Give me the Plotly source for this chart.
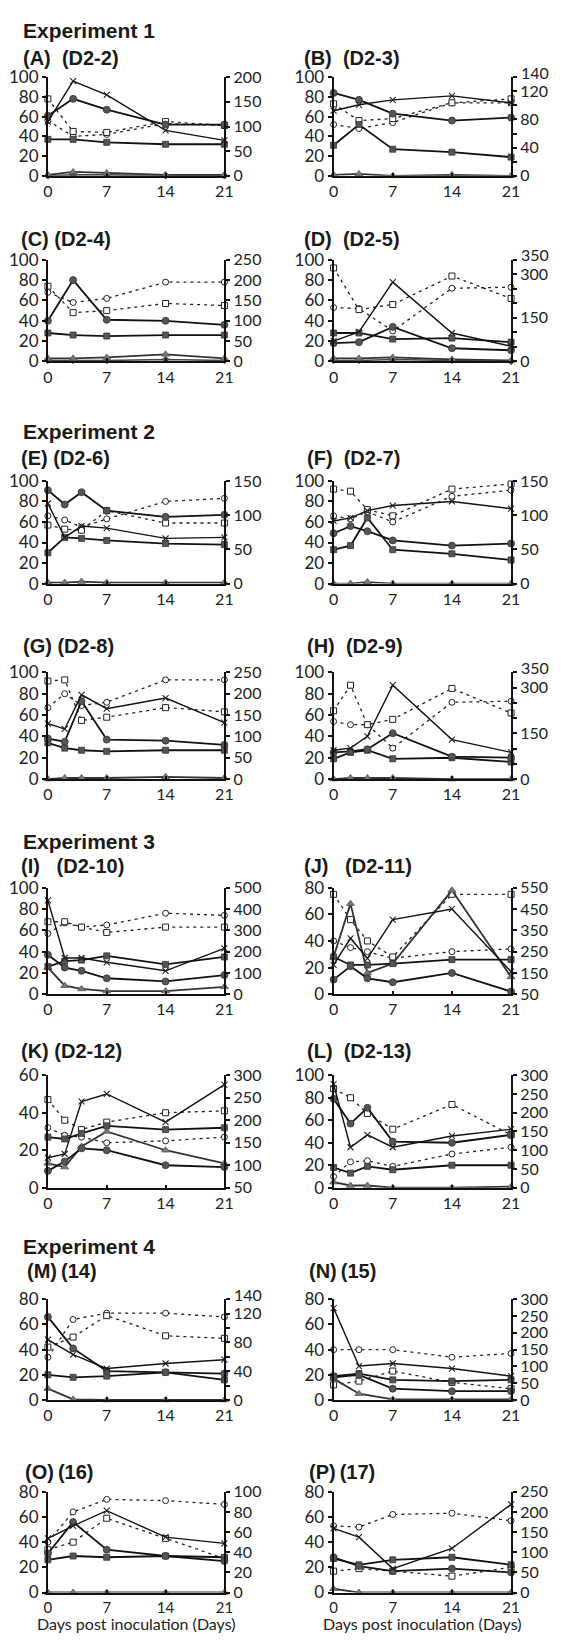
import plotly.graph_objects as go

W, H = 562, 1642

# ---------------- data ----------------
DAYS_5 = [0, 3, 7, 14, 21]
DAYS_6 = [0, 2, 4, 7, 14, 21]
X_TICKS = [0, 7, 14, 21]

PANELS = list("ABCDEFGHIJKLMNOP")
TITLES = {
    "A": "(A)\u00a0\u00a0(D2-2)", "B": "(B)\u00a0\u00a0(D2-3)",
    "C": "(C) (D2-4)", "D": "(D)\u00a0\u00a0(D2-5)",
    "E": "(E) (D2-6)", "F": "(F)\u00a0\u00a0(D2-7)",
    "G": "(G) (D2-8)", "H": "(H)\u00a0\u00a0(D2-9)",
    "I": "(I)\u00a0\u00a0\u00a0(D2-10)", "J": "(J)\u00a0\u00a0\u00a0(D2-11)",
    "K": "(K) (D2-12)", "L": "(L)\u00a0\u00a0(D2-13)",
    "M": "(M)\u2009(14)", "N": "(N)\u2009(15)",
    "O": "(O)\u2009(16)", "P": "(P)\u2009(17)",
}
EXPERIMENTS = ["Experiment 1", "Experiment 2", "Experiment 3", "Experiment 4"]
X_TITLE = "Days post inoculation (Days)"

LEFT_MAX = {p: 100 for p in PANELS}
LEFT_MAX.update({"J": 80, "K": 60, "M": 80, "N": 80, "O": 80, "P": 80})

RIGHT_RANGE = {
    "A": [0, 200], "B": [0, 140], "C": [0, 250], "D": [0, 350],
    "E": [0, 150], "F": [0, 150], "G": [0, 250], "H": [0, 350],
    "I": [0, 500], "J": [50, 550], "K": [50, 300], "L": [0, 300],
    "M": [0, 140], "N": [0, 300], "O": [0, 100], "P": [0, 250],
}
RIGHT_TICKS = {
    "A": [0, 50, 100, 150, 200],
    "B": [0, 20, 40, 60, 80, 100, 120, 140],
    "C": [0, 50, 100, 150, 200, 250],
    "D": [0, 50, 100, 150, 200, 250, 300, 350],
    "E": [0, 50, 100, 150], "F": [0, 50, 100, 150],
    "G": [0, 50, 100, 150, 200, 250],
    "H": [0, 50, 100, 150, 200, 250, 300, 350],
    "I": [0, 100, 200, 300, 400, 500],
    "J": [50, 150, 250, 350, 450, 550],
    "K": [50, 100, 150, 200, 250, 300],
    "L": [0, 50, 100, 150, 200, 250, 300],
    "M": [0, 20, 40, 60, 80, 100, 120, 140],
    "N": [0, 50, 100, 150, 200, 250, 300],
    "O": [0, 20, 40, 60, 80, 100],
    "P": [0, 50, 100, 150, 200, 250],
}
RIGHT_LABELS = {
    "B": ["0", "", "40", "", "80", "", "120", "140"],
    "D": ["0", "", "", "150", "", "", "300", "350"],
    "H": ["0", "", "", "150", "", "", "300", "350"],
    "M": ["0", "", "40", "", "80", "", "120", "140"],
}
# right-axis top labels that sit just above the axis end (drawn as text)
RAISED_TOP = {"B": "140", "D": "350", "H": "350", "M": "140"}

FILLED_CIRCLE = {
    "A": [61, 78, 67, 52, 52], "B": [84, 77, 63, 56, 59],
    "C": [40, 80, 41, 40, 36], "D": [18, 19, 34, 13, 11],
    "E": [91, 77, 89, 71, 65, 67], "F": [49, 56, 51, 42, 37, 39],
    "G": [38, 35, 73, 37, 36, 32], "H": [25, 26, 28, 43, 21, 20],
    "I": [37, 25, 22, 15, 12, 18], "J": [11, 21, 12, 9, 16, 2],
    "K": [9, 14, 21, 20, 12, 11], "L": [79, 57, 71, 41, 40, 47],
    "M": [66, 41, 23, 22, 21], "N": [18, 20, 9, 7, 7],
    "O": [31, 56, 34, 29, 25], "P": [28, 21, 17, 19, 16],
}
FILLED_SQUARE = {
    "A": [37, 37, 34, 32, 32], "B": [31, 52, 27, 24, 19],
    "C": [28, 26, 25, 26, 26], "D": [28, 28, 22, 23, 19],
    "E": [30, 45, 44, 42, 39, 38], "F": [33, 37, 64, 33, 29, 23],
    "G": [34, 29, 27, 26, 27, 27], "H": [19, 25, 27, 19, 20, 16],
    "I": [26, 31, 32, 36, 28, 35], "J": [28, 22, 22, 23, 26, 26],
    "K": [27, 26, 29, 33, 31, 32], "L": [18, 13, 19, 16, 20, 20],
    "M": [20, 18, 19, 22, 16], "N": [19, 21, 16, 15, 16],
    "O": [26, 29, 28, 29, 28], "P": [27, 22, 26, 28, 22],
}
TRIANGLE = {
    "A": [1, 4, 3, 1, 1], "B": [1, 2, 0, 1, 0],
    "C": [3, 3, 4, 7, 3], "D": [3, 3, 4, 2, 1],
    "E": [1, 1, 2, 1, 1, 1], "F": [0, 0, 1.5, 0, 0, 0],
    "G": [0, 1, 1, 1, 2, 1], "H": [0, 1, 1, 1, 0, 0],
    "I": [25, 8, 5, 3, 3, 7], "J": [28, 68, 16, 23, 78, 13],
    "K": [13, 11, 22, 30, 20, 13], "L": [5, 2, 2, 0, 0, 1],
    "M": [9, 0.5, 0, 0, 0], "N": [17, 5, 0.5, 0.5, 0.5],
    "O": [0, 0, 0, 0, 0], "P": [3, 0, 0, 0, 0],
}
DIAMOND = {
    "A": [0, 1, 1, 0, 0], "C": [1, 1, 1, 2, 1], "D": [1, 1, 2, 1, 0],
}
CROSS = {
    "A": [55, 96, 82, 46, 36], "B": [66, 72, 77, 81, 74],
    "D": [20, 29, 78, 28, 15],
    "E": [78, 45, 56, 54, 44, 45], "F": [61, 64, 71, 76, 80, 73],
    "G": [52, 47, 79, 66, 76, 53], "H": [27, 29, 40, 88, 37, 25],
    "I": [88, 34, 34, 30, 22, 43], "J": [22, 42, 27, 56, 64, 17],
    "K": [16, 18, 46, 50, 35, 55], "L": [92, 36, 47, 36, 46, 52],
    "M": [48, 36, 25, 29, 32], "N": [73, 27, 29, 25, 19],
    "O": [43, 53, 65, 44, 39], "P": [51, 44, 19, 35, 70],
}
OPEN_CIRCLE = {
    "A": [56, 40, 42, 53, 51], "B": [52, 48, 54, 74, 74],
    "C": [68, 58, 62, 78, 78], "D": [53, 52, 30, 72, 73],
    "E": [66, 62, 55, 63, 80, 83], "F": [66, 63, 70, 60, 85, 91],
    "G": [67, 80, 69, 72, 93, 93], "H": [54, 51, 51, 29, 72, 73],
    "I": [57, 67, 63, 65, 76, 74], "J": [40, 35, 32, 27, 32, 34],
    "K": [32, 28, 27, 24, 25, 27], "L": [10, 23, 24, 19, 30, 36],
    "M": [34, 64, 69, 69, 66], "N": [40, 40, 40, 34, 37],
    "O": [40, 64, 74, 73, 70], "P": [53, 52, 62, 63, 57],
}
OPEN_SQUARE = {
    "A": [78, 45, 44, 55, 51], "B": [73, 56, 58, 74, 78],
    "C": [74, 48, 50, 57, 55], "D": [92, 51, 56, 84, 62],
    "E": [57, 53, 52, 71, 59, 59], "F": [92, 90, 72, 66, 92, 97],
    "G": [92, 93, 55, 58, 67, 63], "H": [64, 88, 51, 56, 85, 62],
    "I": [68, 68, 63, 58, 63, 63], "J": [75, 56, 40, 28, 75, 75],
    "K": [47, 36, 31, 35, 40, 41], "L": [88, 80, 66, 52, 74, 47],
    "M": [42, 50, 67, 51, 49], "N": [12, 15, 23, 14, 9],
    "O": [34, 40, 59, 43, 27], "P": [17, 19, 17, 13, 20],
}

# ---------------- layout geometry (pixels) ----------------
COL_X = [(44, 225), (337, 519)]
ROW_Y = [(67, 167), (252, 355), (476, 580), (670, 778),
         (888, 996), (1078, 1192), (1305, 1407), (1500, 1602)]
TITLE_Y = [48, 231, 453, 643, 866, 1053, 1276, 1480]
TITLE_X = {"A": 16, "B": 305, "C": 14, "D": 305, "E": 14, "F": 308,
           "G": 16, "H": 308, "I": 14, "J": 305, "K": 14, "L": 308,
           "M": 20, "N": 310, "O": 18, "P": 310}
EXP_Y = [20, 426, 841, 1251]
XTITLE_Y = 1633

FAM = "Lato, 'Open Sans', sans-serif"
TICK_FONT = dict(family=FAM, size=17, color="#222")
XTICK_FONT = dict(family=FAM, size=16, color="#222")
XTICK_FONT_LAST = dict(family=FAM, size=15, color="#222")
RTICK_FONT = dict(family=FAM, size=16, color="#222")
TITLE_FONT = dict(family="'Liberation Sans', Arial, sans-serif", size=20, color="#1a1a1a")

STYLES = [
    (OPEN_CIRCLE, dict(symbol="circle", size=6, color="white", line=dict(color="#222", width=1)),
     dict(color="#222", width=1.3, dash="3px,4px")),
    (OPEN_SQUARE, dict(symbol="square", size=6, color="white", line=dict(color="#222", width=1)),
     dict(color="#222", width=1.3, dash="3px,4px")),
    (DIAMOND, dict(symbol="diamond", size=5, color="#555", line=dict(color="#333", width=0.8)),
     dict(color="#444", width=1.6)),
    (TRIANGLE, dict(symbol="triangle-up", size=7, color="#777", line=dict(color="#555", width=0.8)),
     dict(color="#333", width=1.8)),
    (FILLED_SQUARE, dict(symbol="square", size=6, color="#555", line=dict(color="#333", width=0.8)),
     dict(color="#111", width=1.8)),
    (FILLED_CIRCLE, dict(symbol="circle", size=7, color="#555", line=dict(color="#333", width=0.8)),
     dict(color="#111", width=1.8)),
    (CROSS, dict(symbol="x-thin", size=6, color="#222", line=dict(color="#222", width=1.1)),
     dict(color="#111", width=1.4)),
]

fig = go.Figure()
layout = {}
annotations = []


def px_x(v):
    return v / W


def px_y(v):
    return 1 - v / H


for i, p in enumerate(PANELS):
    row, col = divmod(i, 2)
    x0, x1 = COL_X[col]
    top, bot = ROW_Y[row]
    xn = i + 1
    yl = 2 * i + 1
    yr = 2 * i + 2
    xref = "x" if xn == 1 else f"x{xn}"
    ylref = "y" if yl == 1 else f"y{yl}"
    yrref = f"y{yr}"
    xkey = "xaxis" if xn == 1 else f"xaxis{xn}"
    ylkey = "yaxis" if yl == 1 else f"yaxis{yl}"
    yrkey = f"yaxis{yr}"
    days = DAYS_5 if len(FILLED_CIRCLE[p]) == 5 else DAYS_6

    layout[xkey] = dict(
        domain=[px_x(x0), px_x(x1)], anchor=ylref, range=[0, 21],
        tickmode="array", tickvals=X_TICKS, showline=True, linecolor="#111",
        linewidth=2, ticks="inside", ticklen=3, tickwidth=1.5, tickcolor="#111",
        tickfont=XTICK_FONT_LAST if row == 7 else XTICK_FONT,
        showgrid=False, zeroline=False, fixedrange=True,
    )
    lmax = LEFT_MAX[p]
    layout[ylkey] = dict(
        domain=[px_y(bot), px_y(top)], anchor=xref, range=[0, lmax],
        tickmode="array", tickvals=list(range(0, lmax + 1, 20)),
        showline=True, linecolor="#111", linewidth=2, ticks="outside",
        ticklen=4, tickwidth=1.5, tickcolor="#111", tickfont=TICK_FONT,
        showgrid=False, zeroline=False, fixedrange=True,
    )
    rticks = RIGHT_TICKS[p]
    rlabels = list(RIGHT_LABELS.get(p, [str(v) for v in rticks]))
    if p in RAISED_TOP:
        rlabels[-1] = ""
        annotations.append(dict(
            text=RAISED_TOP[p], xref="paper", yref="paper",
            x=px_x(x1 + 8), y=px_y(top - 5), xanchor="left",
            yanchor="middle", showarrow=False, font=RTICK_FONT,
        ))
    layout[yrkey] = dict(
        domain=[px_y(bot), px_y(top)], anchor=xref, overlaying=ylref,
        side="right", range=RIGHT_RANGE[p], tickmode="array",
        tickvals=rticks, ticktext=rlabels, showline=True, linecolor="#111",
        linewidth=2, ticks="outside", ticklen=4, tickwidth=1.5,
        tickcolor="#111", tickfont=RTICK_FONT, showgrid=False,
        zeroline=False, fixedrange=True,
    )

    for data, mk, ln in STYLES:
        vals = data.get(p)
        if vals is None:
            continue
        fig.add_trace(go.Scatter(
            x=days, y=vals, xaxis=xref, yaxis=ylref, mode="lines+markers",
            marker=mk, line=ln, cliponaxis=False, showlegend=False,
            hoverinfo="skip",
        ))
    # keep the right-hand axis attached to its subplot
    fig.add_trace(go.Scatter(
        x=[None], y=[None], xaxis=xref, yaxis=yrref, mode="markers",
        showlegend=False, hoverinfo="skip",
    ))

    annotations.append(dict(
        text=f"<b>{TITLES[p]}</b>", xref="paper", yref="paper",
        x=px_x(TITLE_X[p]), y=px_y(TITLE_Y[row]), xanchor="left",
        yanchor="middle", showarrow=False, font=TITLE_FONT,
    ))

for k, t in enumerate(EXPERIMENTS):
    annotations.append(dict(
        text=f"<b>{t}</b>", xref="paper", yref="paper", x=px_x(16),
        y=px_y(EXP_Y[k]), xanchor="left", yanchor="middle", showarrow=False,
        font=dict(family="'Liberation Sans', Arial, sans-serif", size=21,
                  color="#1a1a1a"),
    ))

for col in range(2):
    x0, x1 = COL_X[col]
    annotations.append(dict(
        text=X_TITLE, xref="paper", yref="paper", x=px_x((x0 + x1) / 2),
        y=px_y(XTITLE_Y), xanchor="center", yanchor="middle",
        showarrow=False, font=dict(family=FAM, size=16, color="#222"),
    ))

fig.update_layout(
    width=W, height=H, margin=dict(l=0, r=0, t=0, b=0),
    paper_bgcolor="white", plot_bgcolor="rgba(0,0,0,0)",
    showlegend=False, annotations=annotations, **layout,
)

fig.write_html(
    "out.html",
    config={"displayModeBar": False},
    post_script="document.body.style.margin='0';document.body.style.padding='0';",
)
